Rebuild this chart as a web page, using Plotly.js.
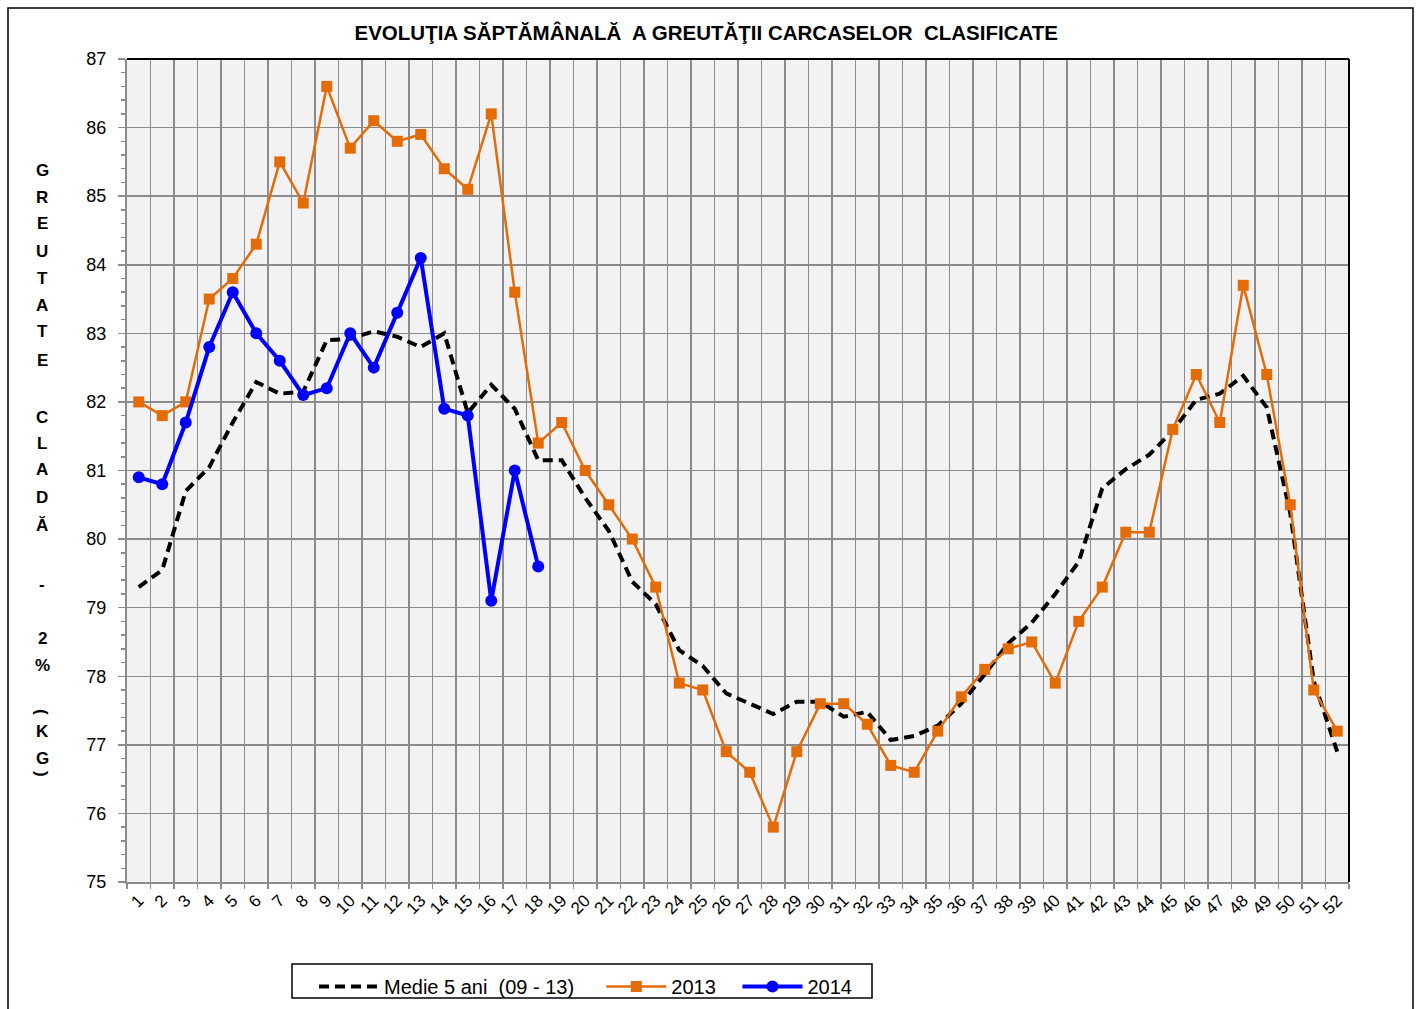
<!DOCTYPE html>
<html>
<head>
<meta charset="utf-8">
<script src="https://cdn.plot.ly/plotly-3.0.1.min.js"></script>
<style>html,body{margin:0;padding:0;background:#fff;}#chart{width:1421px;height:1009px;}</style>
</head>
<body>
<div id="chart"></div>
<script>
// ---- data ----
const weeks = ["1","2","3","4","5","6","7","8","9","10","11","12","13","14","15","16","17","18","19","20","21","22","23","24","25","26","27","28","29","30","31","32","33","34","35","36","37","38","39","40","41","42","43","44","45","46","47","48","49","50","51","52"];
const medie5ani = [79.3,79.55,80.7,81.05,81.7,82.29,82.12,82.15,82.9,82.92,83.03,82.95,82.8,83.0,81.84,82.25,81.9,81.15,81.15,80.6,80.12,79.38,79.05,78.38,78.15,77.75,77.6,77.45,77.63,77.63,77.41,77.48,77.07,77.13,77.28,77.6,78.03,78.48,78.78,79.2,79.67,80.74,81.02,81.23,81.58,82.03,82.12,82.38,81.92,80.38,77.93,76.9];
const an2013 = [82.0,81.8,82.0,83.5,83.8,84.3,85.5,84.9,86.6,85.7,86.1,85.8,85.9,85.4,85.1,86.2,83.6,81.4,81.7,81.0,80.5,80.0,79.3,77.9,77.8,76.9,76.6,75.8,76.9,77.6,77.6,77.3,76.7,76.6,77.2,77.7,78.1,78.4,78.5,77.9,78.8,79.3,80.1,80.1,81.6,82.4,81.7,83.7,82.4,80.5,77.8,77.2];
const weeks2014 = ["1","2","3","4","5","6","7","8","9","10","11","12","13","14","15","16","17","18"];
const an2014 = [80.9,80.8,81.7,82.8,83.6,83.0,82.6,82.1,82.2,83.0,82.5,83.3,84.1,81.9,81.8,79.1,81.0,79.6];
const seriesNames = ["Medie 5 ani  (09 - 13)", "2013", "2014"];
const chartTitle = "EVOLUŢIA SĂPTĂMÂNALĂ  A GREUTĂŢII CARCASELOR  CLASIFICATE";
const yTitleChars = ["G","R","E","U","T","A","T","E","C","L","A","D","Ă","-","2","%","(","K","G",")"];

// ---- chart ----
const FONT = "Liberation Sans, Arial, sans-serif";
const NB = "\u00A0";
const traces = [
  {x: weeks, y: medie5ani, name: seriesNames[0].replace(/ /g, NB) + NB.repeat(4), type: "scatter", mode: "lines",
   line: {color: "#000000", width: 4, dash: "10px,6px"}},
  {x: weeks, y: an2013, name: seriesNames[1] + NB.repeat(3), type: "scatter", mode: "lines+markers",
   line: {color: "#E36C09", width: 2.5}, marker: {symbol: "square", size: 11, color: "#E36C09"}},
  {x: weeks2014, y: an2014, name: seriesNames[2], type: "scatter", mode: "lines+markers",
   line: {color: "#0000FF", width: 4}, marker: {symbol: "circle", size: 12, color: "#0000FF"}}
];

// vertical stacked y-axis title (pixel rows of the letters)
const yTitleRows = [170,197,224,251,278,305,332,360,417,443,470,497,525,584,638,665,712,731,758,774];
const annotations = yTitleChars.map((c, k) => ({
  text: c, xref: "paper", yref: "paper", showarrow: false,
  x: (42 - 127) / 1222, xanchor: "center",
  y: (882 - yTitleRows[k]) / 823, yanchor: "middle",
  textangle: (c === "(" || c === ")") ? 90 : 0,
  font: {family: FONT, size: 17, color: "#000", weight: "bold"}
}));

const layout = {
  width: 1421, height: 1009,
  margin: {l: 127, r: 72, t: 59, b: 127, autoexpand: false},
  paper_bgcolor: "#ffffff",
  plot_bgcolor: "#f2f2f2",
  font: {family: FONT, color: "#000"},
  title: {text: "<b>" + chartTitle + "</b>", font: {family: FONT, size: 20.5, color: "#000"},
          xref: "container", x: 0.497, xanchor: "center", yref: "container", y: 1 - 33/1009, yanchor: "middle"},
  xaxis: {
    type: "category", tickson: "boundaries", range: [-0.5, 51.5], automargin: false,
    showgrid: true, gridcolor: "#8c8c8c", gridwidth: 1.5,
    showline: true, linecolor: "#8c8c8c", linewidth: 2,
    ticks: "outside", ticklen: 5, tickcolor: "#8c8c8c", tickwidth: 1.5,
    tickangle: -45, tickfont: {family: FONT, size: 17, color: "#000"},
    zeroline: false, fixedrange: true
  },
  yaxis: {
    range: [75, 87], dtick: 1, tick0: 75, automargin: false,
    showgrid: true, gridcolor: "#8c8c8c", gridwidth: 1.5,
    showline: true, linecolor: "#8c8c8c", linewidth: 2,
    ticks: "outside", ticklen: 7, tickcolor: "#8c8c8c", tickwidth: 1.5,
    minor: {dtick: 0.2, ticks: "outside", ticklen: 4, tickcolor: "#8c8c8c", tickwidth: 1.5, showgrid: false},
    tickfont: {family: FONT, size: 18, color: "#000"},
    ticklabelstandoff: 8,
    zeroline: false, fixedrange: true
  },
  showlegend: true,
  legend: {
    orientation: "h", xref: "paper", yref: "paper",
    x: (314 - 127) / 1222, xanchor: "left", y: (882 - 967) / 823, yanchor: "top",
    bgcolor: "rgba(0,0,0,0)", borderwidth: 0,
    font: {family: FONT, size: 20, color: "#000"},
    itemwidth: 60, traceorder: "normal"
  },
  shapes: [
    {type: "line", xref: "paper", yref: "paper", x0: 0, x1: 1, y0: 1, y1: 1, line: {color: "#000", width: 2}},
    {type: "line", xref: "paper", yref: "paper", x0: 1, x1: 1, y0: 0, y1: 1, line: {color: "#000", width: 2}},
    {type: "rect", xref: "paper", yref: "paper",
     x0: (8 - 127) / 1222, x1: (1413 - 127) / 1222, y0: (882 - 1040) / 823, y1: (882 - 8) / 823,
     line: {color: "#000", width: 1.5}, fillcolor: "rgba(0,0,0,0)", layer: "below"},
    {type: "rect", xref: "paper", yref: "paper",
     x0: (292 - 127) / 1222, x1: (872 - 127) / 1222, y0: (882 - 998) / 823, y1: (882 - 964) / 823,
     line: {color: "#000", width: 1.5}, fillcolor: "#ffffff", layer: "below"}
  ],
  annotations: annotations
};

Plotly.newPlot("chart", traces, layout, {displayModeBar: false, staticPlot: true});
</script>
</body>
</html>
